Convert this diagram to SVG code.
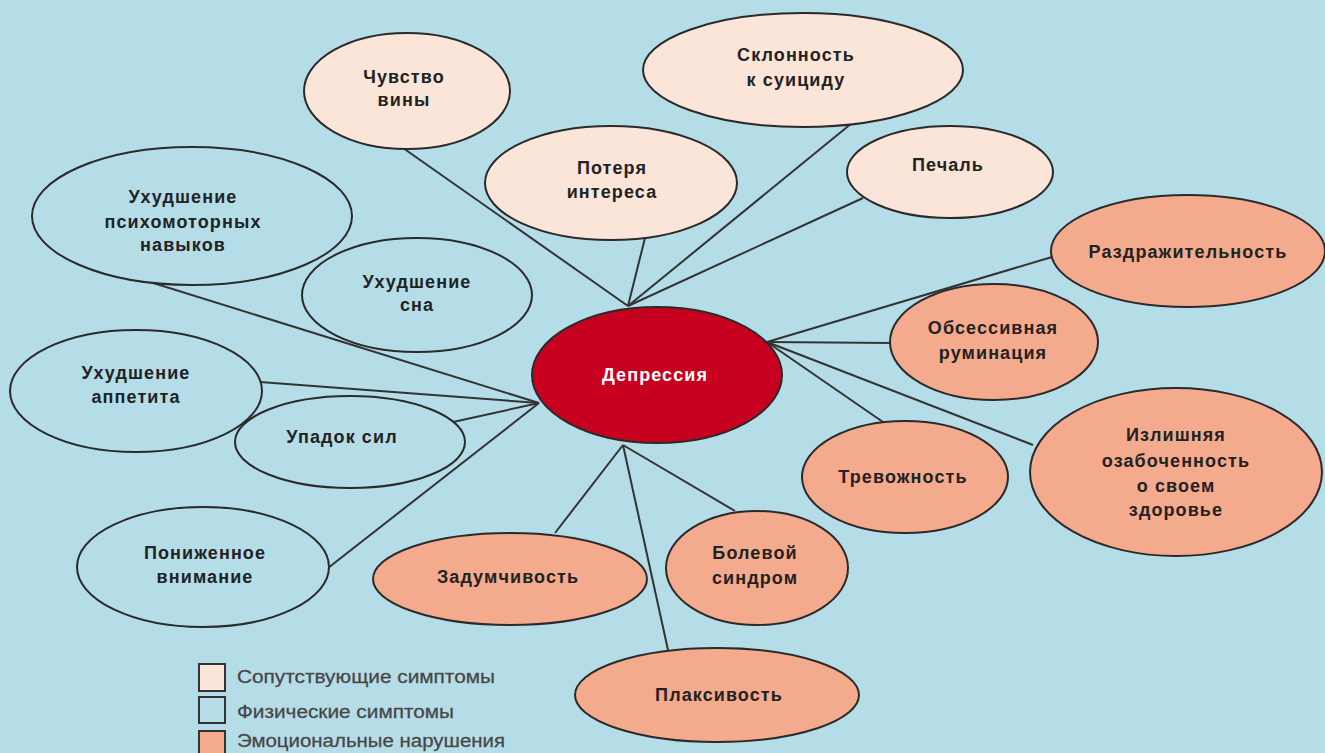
<svg xmlns="http://www.w3.org/2000/svg" width="1325" height="753" viewBox="0 0 1325 753">
<style>
.bg{fill:#b5dde8}
.n ellipse{stroke:#2a2a2a;stroke-width:2}
.c{fill:#fbe4d8}
.p{fill:#b5dde8}
.e{fill:#f4aa8c}
.d{fill:#c8001f}
.t{font-family:"Liberation Sans",Arial,sans-serif;font-weight:bold;font-size:18px;fill:#222;text-anchor:middle;letter-spacing:1.1px}
.w{fill:#ffffff}
#connectors line{stroke:#333;stroke-width:2}
.lg{font-family:"Liberation Sans",Arial,sans-serif;font-size:18px;fill:#444;stroke:#555;stroke-width:0.3}
.box{stroke:#333;stroke-width:2}
</style>
<rect class="bg" x="0" y="0" width="1325" height="753"/>
<g id="connectors">
<line x1="628" y1="306" x2="403" y2="148"/>
<line x1="628" y1="306" x2="645" y2="238"/>
<line x1="628" y1="306" x2="852" y2="123"/>
<line x1="628" y1="306" x2="863" y2="198"/>
<line x1="767" y1="342" x2="1052" y2="257"/>
<line x1="767" y1="342" x2="893" y2="343"/>
<line x1="767" y1="342" x2="883" y2="422"/>
<line x1="767" y1="342" x2="1033" y2="445"/>
<line x1="623" y1="445" x2="555" y2="533"/>
<line x1="623" y1="445" x2="735" y2="511"/>
<line x1="623" y1="445" x2="668" y2="650"/>
<line x1="539" y1="403" x2="150" y2="282"/>
<line x1="539" y1="403" x2="260" y2="382"/>
<line x1="539" y1="403" x2="453" y2="422"/>
<line x1="539" y1="403" x2="328" y2="568"/>
</g>
<g id="n-vina" class="n"><ellipse class="c" cx="407" cy="91" rx="103" ry="58"/><text class="t" x="404" y="83">Чувство</text><text class="t" x="404" y="106">вины</text></g>
<g id="n-suicid" class="n"><ellipse class="c" cx="803" cy="70" rx="160" ry="57"/><text class="t" x="796" y="61">Склонность</text><text class="t" x="796" y="86">к суициду</text></g>
<g id="n-interes" class="n"><ellipse class="c" cx="611" cy="183" rx="126" ry="57"/><text class="t" x="612" y="174">Потеря</text><text class="t" x="612" y="198">интереса</text></g>
<g id="n-pechal" class="n"><ellipse class="c" cx="950" cy="172" rx="103" ry="46"/><text class="t" x="948" y="171">Печаль</text></g>
<g id="n-psiho" class="n"><ellipse class="p" cx="192" cy="216" rx="160" ry="69"/><text class="t" x="183" y="203">Ухудшение</text><text class="t" x="183" y="228">психомоторных</text><text class="t" x="183" y="251">навыков</text></g>
<g id="n-son" class="n"><ellipse class="p" cx="417" cy="295" rx="115" ry="57"/><text class="t" x="417" y="288">Ухудшение</text><text class="t" x="417" y="311">сна</text></g>
<g id="n-appetit" class="n"><ellipse class="p" cx="136" cy="391" rx="126" ry="61"/><text class="t" x="136" y="379">Ухудшение</text><text class="t" x="136" y="403">аппетита</text></g>
<g id="n-upadok" class="n"><ellipse class="p" cx="350" cy="442" rx="115" ry="46"/><text class="t" x="342" y="443">Упадок сил</text></g>
<g id="n-vnimanie" class="n"><ellipse class="p" cx="203" cy="567" rx="126" ry="60"/><text class="t" x="205" y="559">Пониженное</text><text class="t" x="205" y="583">внимание</text></g>
<g id="n-depr" class="n"><ellipse class="d" cx="657" cy="375" rx="125" ry="68"/><text class="t w" x="655" y="381">Депрессия</text></g>
<g id="n-zadum" class="n"><ellipse class="e" cx="510" cy="579" rx="137" ry="46"/><text class="t" x="508" y="583">Задумчивость</text></g>
<g id="n-bol" class="n"><ellipse class="e" cx="757" cy="568" rx="91" ry="57"/><text class="t" x="755" y="559">Болевой</text><text class="t" x="755" y="584">синдром</text></g>
<g id="n-plaks" class="n"><ellipse class="e" cx="717" cy="695" rx="142" ry="47"/><text class="t" x="719" y="701">Плаксивость</text></g>
<g id="n-trevog" class="n"><ellipse class="e" cx="905" cy="477" rx="103" ry="56"/><text class="t" x="903" y="483">Тревожность</text></g>
<g id="n-zdorov" class="n"><ellipse class="e" cx="1176" cy="472" rx="146" ry="84"/><text class="t" x="1176" y="441">Излишняя</text><text class="t" x="1176" y="467">озабоченность</text><text class="t" x="1176" y="492">о своем</text><text class="t" x="1176" y="516">здоровье</text></g>
<g id="n-rumin" class="n"><ellipse class="e" cx="994" cy="342" rx="104" ry="58"/><text class="t" x="993" y="334">Обсессивная</text><text class="t" x="993" y="359">руминация</text></g>
<g id="n-razdr" class="n"><ellipse class="e" cx="1188" cy="251" rx="137" ry="56"/><text class="t" x="1188" y="258">Раздражительность</text></g>
<g id="legend">
<rect class="box c" x="199" y="664" width="26" height="27"/>
<rect class="box p" x="199" y="697" width="26" height="26"/>
<rect class="box e" x="199" y="731" width="26" height="26"/>
<text class="lg" x="237" y="683" textLength="258" lengthAdjust="spacingAndGlyphs">Сопутствующие симптомы</text>
<text class="lg" x="237" y="718" textLength="217" lengthAdjust="spacingAndGlyphs">Физические симптомы</text>
<text class="lg" x="237" y="747" textLength="268" lengthAdjust="spacingAndGlyphs">Эмоциональные нарушения</text>
</g>
</svg>
